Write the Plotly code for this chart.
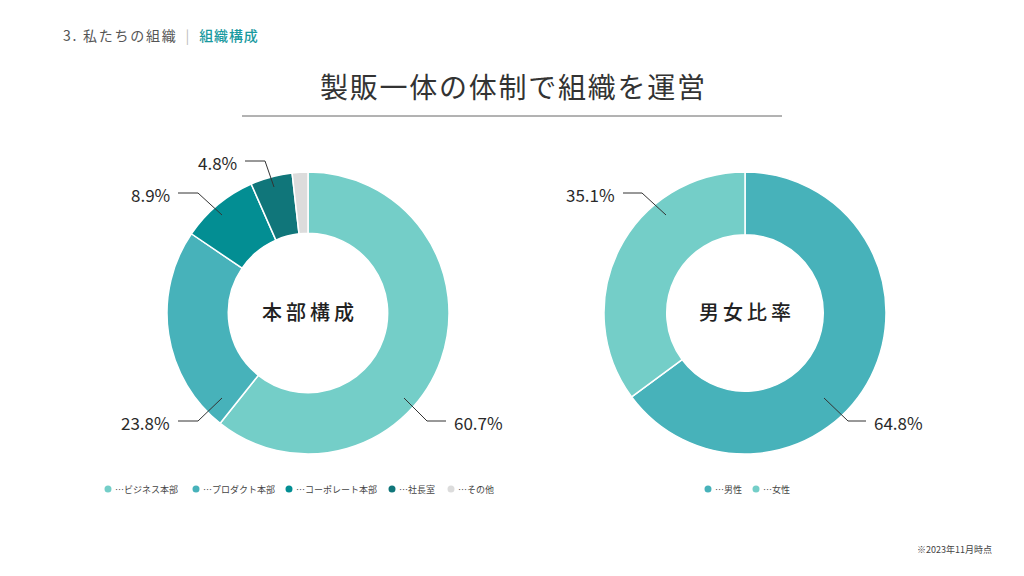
import plotly.graph_objects as go

W, H = 1024, 576
FONT = "Noto Sans CJK JP"
OFF = 8  # page body margin offset

# ---- data ----
dept_labels = ["ビジネス本部", "プロダクト本部", "コーポレート本部", "社長室", "その他"]
dept_values = [60.7, 23.8, 8.9, 4.8, 1.8]
dept_colors = ["#74CEC8", "#47B2BA", "#038E93", "#10767A", "#DCDCDC"]
dept_show = [True, True, True, True, False]

gender_labels = ["男性", "女性"]
gender_values = [64.8, 35.1]
gender_colors = ["#47B2BA", "#74CEC8"]
gender_show = [True, True]

title_text = "製販一体の体制で組織を運営"
header_main = "3. 私たちの組織"
header_sub = "組織構成"
footnote = "※2023年11月時点"

# ---- layout helpers (pixel geometry) ----
def px(x):
    return (x - OFF) / W

def py(y):
    return 1 - (y - OFF) / H

R = 141
pies = [
    dict(cx=308, cy=313, name="本部構成", labels=dept_labels, values=dept_values,
         colors=dept_colors, show=dept_show, hole=0.565,
         leaders=[((96, 85), (119, 108), 138, 1),
                  ((-86, 85), (-110, 108), -130, -1),
                  ((-86, -98), (-110, -120), -130, -1),
                  ((-34, -126), (-43, -152), -63, -1),
                  None],
         legend_y=489, legend_x=[108, 196, 289, 392, 451]),
    dict(cx=745, cy=313, name="男女比率", labels=gender_labels, values=gender_values,
         colors=gender_colors, show=gender_show, hole=0.555,
         leaders=[((79, 85), (103, 108), 121, 1),
                  ((-79, -98), (-103, -120), -122, -1)],
         legend_y=489, legend_x=[708, 756]),
]

fig = go.Figure()
shapes = []
annotations = []

def spaced(s, sp="\u2009"):
    return sp.join(list(s))

for p in pies:
    fig.add_trace(go.Pie(
        labels=p["labels"], values=p["values"], hole=p["hole"],
        sort=False, direction="clockwise", rotation=0,
        marker=dict(colors=p["colors"], line=dict(color="white", width=1.5)),
        textinfo="none", hoverinfo="label+percent", showlegend=False,
        domain=dict(x=[px(p["cx"] - R), px(p["cx"] + R)],
                    y=[py(p["cy"] + R), py(p["cy"] - R)]),
    ))
    annotations.append(dict(x=px(p["cx"]), y=py(p["cy"] - 2), xref="paper", yref="paper",
                            text=spaced(p["name"], "\u2009"), showarrow=False,
                            font=dict(family=FONT, size=20, color="#222222", weight=500),
                            xanchor="center", yanchor="middle"))
    for v, show, ld in zip(p["values"], p["show"], p["leaders"]):
        if not show or ld is None:
            continue
        (sx, sy), (ex, ey), endx, side = ld
        cx, cy = p["cx"], p["cy"]
        line = dict(color="#333333", width=1)
        shapes.append(dict(type="line", xref="paper", yref="paper",
                           x0=px(cx + sx), y0=py(cy + sy), x1=px(cx + ex), y1=py(cy + ey), line=line))
        shapes.append(dict(type="line", xref="paper", yref="paper",
                           x0=px(cx + ex), y0=py(cy + ey), x1=px(cx + endx), y1=py(cy + ey), line=line))
        annotations.append(dict(x=px(cx + endx + 6 * side), y=py(cy + ey + 1), xref="paper", yref="paper",
                                text=f"{v:.1f}%", showarrow=False,
                                font=dict(family=FONT, size=17, color="#2A2A2A"),
                                xanchor="left" if side > 0 else "right", yanchor="middle"))
    for lab, col, lx in zip(p["labels"], p["colors"], p["legend_x"]):
        ly = p["legend_y"]
        shapes.append(dict(type="circle", xref="paper", yref="paper",
                           x0=px(lx - 3.5), x1=px(lx + 3.5), y0=py(ly + 3.5), y1=py(ly - 3.5),
                           fillcolor=col, line=dict(width=0)))
        annotations.append(dict(x=px(lx + 5), y=py(ly), xref="paper", yref="paper",
                                text="…" + lab, showarrow=False,
                                font=dict(family=FONT, size=9, color="#444444"),
                                xanchor="left", yanchor="middle"))

# title & underline
annotations.append(dict(x=px(512), y=py(86), xref="paper", yref="paper",
                        text=spaced(title_text, "\u200a"), showarrow=False,
                        font=dict(family=FONT, size=28, color="#333333"),
                        xanchor="center", yanchor="middle"))
shapes.append(dict(type="line", xref="paper", yref="paper", x0=px(242), x1=px(782),
                   y0=py(116), y1=py(116), line=dict(color="#666666", width=1)))

# header
annotations.append(dict(x=px(61), y=py(35), xref="paper", yref="paper",
                        text=(f"<span style='color:#555555'>{spaced(header_main, chr(0x200A) * 2)}</span>"
                              f"<span style='color:#BBBBBB'>\u2002\u2009|\u2002\u2009</span>"
                              f"<span style='color:#1A9AA0;font-weight:500'>{spaced(header_sub, chr(0x200A))}</span>"),
                        showarrow=False, font=dict(family=FONT, size=14, color="#555555"),
                        xanchor="left", yanchor="middle"))

# footnote
annotations.append(dict(x=px(994), y=py(549), xref="paper", yref="paper",
                        text=footnote, showarrow=False,
                        font=dict(family=FONT, size=9, color="#444444"),
                        xanchor="right", yanchor="middle"))

fig.update_layout(width=W, height=H, margin=dict(l=0, r=0, t=0, b=0),
                  paper_bgcolor="white", plot_bgcolor="white",
                  shapes=shapes, annotations=annotations)

fig.write_html("out.html")
